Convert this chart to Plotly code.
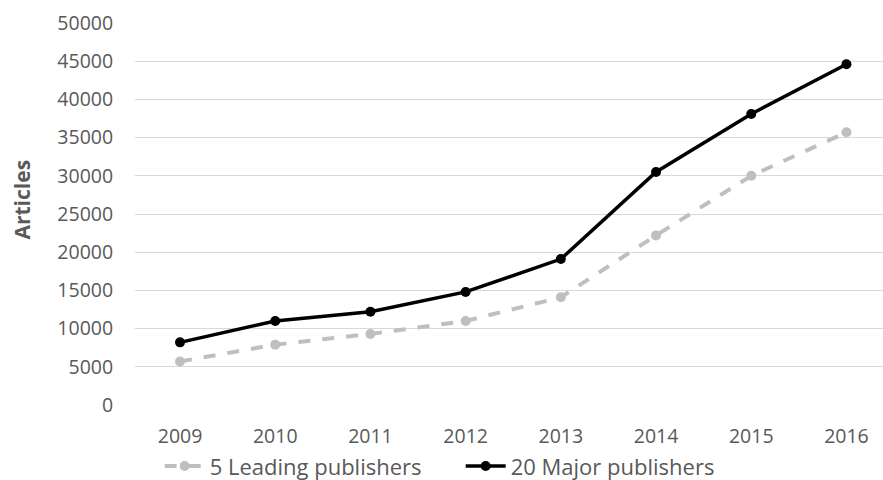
import plotly.graph_objects as go

years = ["2009", "2010", "2011", "2012", "2013", "2014", "2015", "2016"]
leading5 = [5700, 7900, 9300, 11000, 14100, 22200, 30000, 35700]
major20 = [8200, 11000, 12200, 14800, 19100, 30500, 38100, 44600]

FONT = "Open Sans"
TXT = "#595959"

fig = go.Figure()
fig.add_trace(go.Scatter(
    x=years, y=leading5, name="5 Leading publishers", mode="lines+markers",
    line=dict(color="#BFBFBF", width=4, dash="dash"),
    marker=dict(color="#BFBFBF", size=10),
))
fig.add_trace(go.Scatter(
    x=years, y=major20, name="20 Major publishers", mode="lines+markers",
    line=dict(color="#000000", width=3.5),
    marker=dict(color="#000000", size=10),
))

fig.update_layout(
    width=883, height=480,
    margin=dict(l=135, r=0, t=23, b=75, autoexpand=False),
    paper_bgcolor="white", plot_bgcolor="white",
    font=dict(family=FONT, size=20, color=TXT),
    showlegend=True,
    legend=dict(
        orientation="h", x=0.033, xanchor="left", y=-0.16, yanchor="middle",
        font=dict(family=FONT, size=22, color=TXT),
        itemwidth=40, entrywidth=246, entrywidthmode="pixels",
        bgcolor="rgba(0,0,0,0)",
    ),
    xaxis=dict(
        type="category", range=[-0.473, 7.384],
        showgrid=False, zeroline=False, showline=False,
        ticks="outside", ticklen=14, tickcolor="rgba(0,0,0,0)",
        tickfont=dict(family=FONT, size=19.5, color=TXT),
    ),
    yaxis=dict(
        range=[0, 50000], dtick=5000, tickformat="d",
        showgrid=True, gridcolor="#D9D9D9", gridwidth=1,
        zeroline=False, showline=False,
        ticks="outside", ticklen=17, tickcolor="rgba(0,0,0,0)",
        tickfont=dict(family=FONT, size=19.5, color=TXT),
    ),
    annotations=[dict(
        text="<b>Articles</b>", textangle=-90, xref="paper", yref="paper",
        x=-0.151, y=0.538, xanchor="center", yanchor="middle", showarrow=False,
        font=dict(family=FONT, size=21, color=TXT),
    )],
)

fig.write_html(
    "out.html",
    config={"displayModeBar": False},
    post_script="document.body.style.margin='0';document.body.style.overflow='hidden';",
)
